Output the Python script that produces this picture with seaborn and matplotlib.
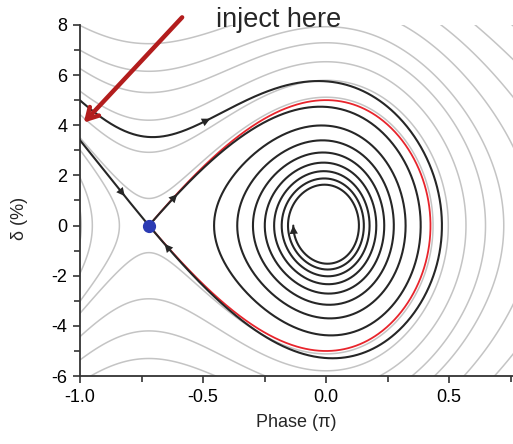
import numpy as np
import matplotlib
matplotlib.use("Agg")
import matplotlib.pyplot as plt
import seaborn as sns

# values (phase in units of pi, delta in %)
phi_ufp = -0.72          # unstable fixed point (blue dot)
sep_height = 5.0         # separatrix half height at phase 0
gamma = 0.5              # damping of the orbits
gamma_amp = 0.012        # damping grows a little with delta^2
spiral_end_amp = 1.5     # last loop of the spiral
# gray contours passing under/over the unstable point: their distance from it
hump_levels = [1.08, 2.92, 4.2, 5.3, 6.15, 7.25, 8.3, 9.3, 10.3, 11.3]
# gray contours turning back left of the unstable point: phase of the vertex
vertex_levels = [-0.84, -0.95, -0.995]

x_lim = (-1.0, 0.76)
y_lim = (-6, 8)
x_ticks = [-1.0, -0.5, 0.0, 0.5]
y_ticks = [-6, -4, -2, 0, 2, 4, 6, 8]

inject_label = "inject here"
inject_tip = (-0.985, 4.1)
inject_tail = (-0.585, 8.3)

# RF potential with the stable point at phase 0
c = -(1 + phi_ufp) * np.pi / 2
def f(x):
    return -np.cos(np.pi * x + c) - np.pi * x * np.sin(c)
k = sep_height ** 2 / 2 / (f(phi_ufp) - f(0.0))
def V(x):
    return k * f(x)
def dV(x):
    return k * np.pi * (np.sin(np.pi * x + c) - np.sin(c))
Vu = V(phi_ufp)


def trace(x, d, dt, stop, nmax=80000):
    xs, ds = [x], [d]
    def rhs(x, d):
        return d, -dV(x) - gamma * (1 + gamma_amp * d * d) * d
    for _ in range(nmax):
        a1, b1 = rhs(x, d)
        a2, b2 = rhs(x + dt / 2 * a1, d + dt / 2 * b1)
        a3, b3 = rhs(x + dt / 2 * a2, d + dt / 2 * b2)
        a4, b4 = rhs(x + dt * a3, d + dt * b3)
        x += dt / 6 * (a1 + 2 * a2 + 2 * a3 + a4)
        d += dt / 6 * (b1 + 2 * b2 + 2 * b3 + b4)
        xs.append(x)
        ds.append(d)
        if stop(x, d, ds[-2]):
            break
    return np.array(xs), np.array(ds)


# eigen directions at the unstable point
kk = -k * np.pi ** 2 * np.cos(np.pi * phi_ufp + c)
lam_p = (-gamma + np.sqrt(gamma ** 2 + 4 * kk)) / 2
lam_m = (-gamma - np.sqrt(gamma ** 2 + 4 * kk)) / 2
eps = 1e-4
dt = 2e-4

out_left = lambda x, d, dp: x < x_lim[0] - 0.02
# incoming branch from the upper left
bx, bd = trace(phi_ufp - eps, -eps * lam_m, -dt, out_left)
bx, bd = bx[::-1], bd[::-1]
# incoming branch from the lower right (orbit injected at 4.8 %)
ax_, ad = trace(phi_ufp + eps, eps * lam_m, -dt, out_left)
ax_, ad = ax_[::-1], ad[::-1]
# outgoing branch, spiralling to the centre
def spiral_done(x, d, dp):
    e = d ** 2 / 2 + V(x) - V(0.0)
    return x < 0 and dp < 0 <= d and e < spiral_end_amp ** 2 / 2
ux, ud = trace(phi_ufp + eps, eps * lam_p, dt, spiral_done)

# separatrix (red)
lo, hi = 0.0, 0.9
for _ in range(60):
    mid = (lo + hi) / 2
    if V(mid) < Vu:
        lo = mid
    else:
        hi = mid
x_right = lo
th = np.linspace(0, np.pi, 400)
xs = phi_ufp + (x_right - phi_ufp) * (1 - np.cos(th)) / 2
ds = np.sqrt(np.clip(2 * (Vu - V(xs)), 0, None))
sep_x = np.concatenate([xs, xs[::-1]])
sep_d = np.concatenate([ds, -ds[::-1]])

# gray contour levels of the hamiltonian
outer_levels = sorted(h ** 2 / 2 for h in hump_levels)
left_levels = sorted(V(v) - Vu for v in vertex_levels)
gx = np.linspace(-1.05, 0.8, 500)
gd = np.linspace(-6.5, 8.5, 500)
GX, GD = np.meshgrid(gx, gd)
H = GD ** 2 / 2 + V(GX) - Vu
H_left = np.where(GX < phi_ufp, H, np.nan)

sns.set_style("ticks")
plt.rcParams["font.family"] = ["Liberation Sans", "DejaVu Sans"]
plt.rcParams["axes.unicode_minus"] = False

fig = plt.figure(figsize=(5.13, 4.44), dpi=100)
ax = fig.add_axes([0.156, 0.153, 0.844, 0.791])

gray = "#c4c4c4"
ax.contour(GX, GD, H, levels=outer_levels, colors=gray, linewidths=1.1,
           linestyles="solid", zorder=1)
ax.contour(GX, GD, H_left, levels=left_levels, colors=gray, linewidths=1.1,
           linestyles="solid", zorder=1)
sns.lineplot(x=sep_x, y=sep_d, sort=False, estimator=None, color="#e8242c",
             linewidth=1.3, ax=ax, zorder=2)
for tx, td in [(bx, bd), (ax_, ad), (ux, ud)]:
    sns.lineplot(x=tx[::4], y=td[::4], sort=False, estimator=None,
                 color="#262626", linewidth=1.5, ax=ax, zorder=3)
ax.plot([phi_ufp], [0], "o", color="#2b3bb3", markersize=8.5, zorder=6)


def arrow_at(tx, td, near, step=40):
    dist = ((tx - near[0]) * 246) ** 2 + ((td - near[1]) * 25) ** 2
    i = int(np.argmin(dist))
    j = min(i + step, len(tx) - 1)
    ax.annotate("", xy=(tx[j], td[j]), xytext=(tx[i], td[i]),
                arrowprops=dict(arrowstyle="-|>,head_length=0.6,head_width=0.3",
                                color="#262626", lw=0, shrinkA=0, shrinkB=0),
                zorder=4)


arrow_at(bx, bd, (-0.84, 1.2))
arrow_at(ux, ud, (-0.62, 1.2))
arrow_at(ax_, ad, (-0.65, -0.8))
arrow_at(ax_, ad, (-0.5, 4.0))
arrow_at(ux, ud, (ux[-60], ud[-60]), step=59)

ax.annotate("", xy=inject_tip, xytext=inject_tail, annotation_clip=False,
            arrowprops=dict(arrowstyle="->,head_length=0.8,head_width=0.45",
                            color="#b31d1d", lw=3.2, shrinkA=0, shrinkB=0),
            zorder=7)
ax.text(-0.447, 7.9, inject_label, fontsize=19.5, ha="left", va="baseline",
        clip_on=False, zorder=7)

ax.set_xlim(*x_lim)
ax.set_ylim(*y_lim)
ax.set_xticks(x_ticks)
ax.set_xticklabels([f"{t:.1f}" for t in x_ticks])
ax.set_yticks(y_ticks)
ax.set_xticks(np.arange(-0.75, 0.76, 0.5), minor=True)
ax.set_yticks(np.arange(-5, 8, 2), minor=True)
ax.tick_params(which="both", direction="out", width=1.2, colors="#333333",
               labelcolor="black", labelsize=13, pad=4)
ax.tick_params(which="major", length=5)
ax.tick_params(which="minor", length=4)
for s in ["left", "bottom"]:
    ax.spines[s].set_linewidth(1.3)
    ax.spines[s].set_color("#333333")
sns.despine(ax=ax)
ax.set_xlabel("Phase (\u03c0)", fontsize=13, labelpad=6)
ax.set_ylabel("\u03b4 (%)", fontsize=13)
ax.yaxis.set_label_coords(-0.12, 0.45)

fig.savefig("out.png", dpi=100)
